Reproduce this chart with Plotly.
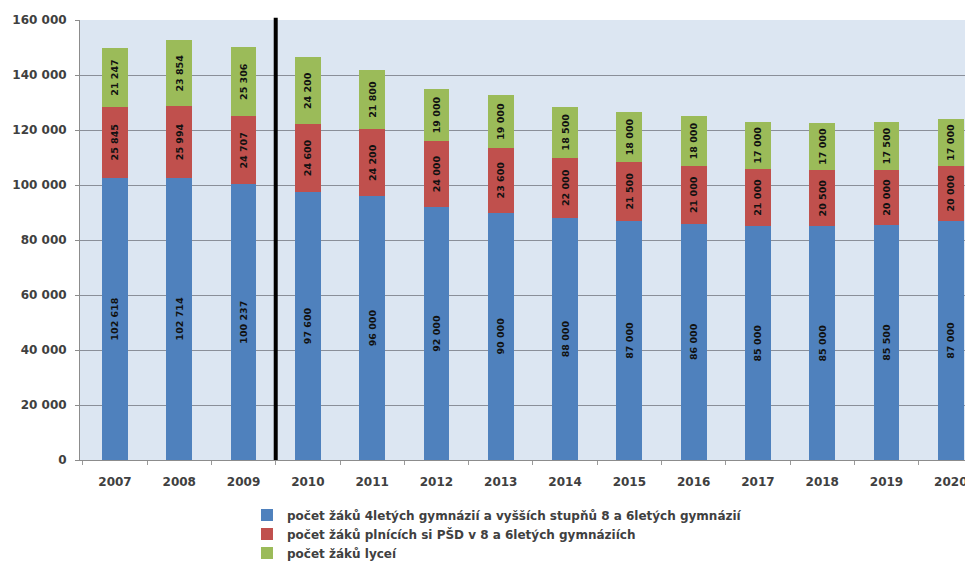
import plotly.graph_objects as go

years = ["2007", "2008", "2009", "2010", "2011", "2012", "2013", "2014",
         "2015", "2016", "2017", "2018", "2019", "2020"]
gymnazia = [102618, 102714, 100237, 97600, 96000, 92000, 90000, 88000,
            87000, 86000, 85000, 85000, 85500, 87000]
psd = [25845, 25994, 24707, 24600, 24200, 24000, 23600, 22000,
       21500, 21000, 21000, 20500, 20000, 20000]
lycea = [21247, 23854, 25306, 24200, 21800, 19000, 19000, 18500,
         18000, 18000, 17000, 17000, 17500, 17000]
names = ["počet žáků 4letých gymnázií a vyšších stupňů 8 a 6letých gymnázií",
         "počet žáků plnících si PŠD v 8 a 6letých gymnáziích",
         "počet žáků lyceí"]
colors = ["#4f81bd", "#c0504d", "#9bbb59"]
y_ticks = [0, 20000, 40000, 60000, 80000, 100000, 120000, 140000, 160000]
divider_after = 2.5  # boundary between 2009 and 2010

BOLD = "DejaVu Sans"

fig = go.Figure()
for i, (vals, name, col) in enumerate(zip([gymnazia, psd, lycea], names, colors)):
    fig.add_trace(go.Bar(
        x=years, y=vals, name=name, legendgroup=f"g{i}",
        marker=dict(color=col, line=dict(width=0)),
        texttemplate="%{y:,d}", textposition="inside",
        insidetextanchor="middle", textangle=-90,
        textfont=dict(size=9.5, color="#111111", family=BOLD, weight="bold"),
        constraintext="none",
    ))

fig.add_shape(type="line", xref="x", yref="paper", x0=divider_after, x1=divider_after,
              y0=0, y1=1.005, line=dict(color="black", width=4))

fig.update_layout(
    width=965, height=564,
    barmode="stack", bargap=0.6,
    separators=". ",
    paper_bgcolor="white", plot_bgcolor="#dce6f2",
    margin=dict(l=72, r=0, t=12, b=112),
    font=dict(family=BOLD, size=10, color="#404040"),
    showlegend=True,
    legend=dict(orientation="v", x=0.187, xanchor="left", y=-0.092, yanchor="top",
                traceorder="normal", tracegroupgap=4,
                font=dict(size=12, color="#404040", family=BOLD, weight="bold"),
                itemwidth=30, bgcolor="rgba(0,0,0,0)"),
)
fig.update_xaxes(range=[-0.544, 13.345], showgrid=False,
                 showline=True, linecolor="#8c8c8c", linewidth=1,
                 ticks="outside", tickson="boundaries", ticklen=4, tickcolor="#9a9a9a",
                 ticklabelstandoff=11,
                 tickfont=dict(size=12, color="#404040", family=BOLD, weight="bold"))
fig.update_yaxes(range=[0, 160000], tickvals=y_ticks, tickformat=",d",
                 showgrid=True, gridcolor="#8a8f99", gridwidth=1,
                 showline=True, linecolor="#8c8c8c", linewidth=1,
                 ticks="outside", ticklen=4, tickcolor="#8c8c8c",
                 ticklabelstandoff=6,
                 tickfont=dict(size=12, color="#404040", family=BOLD, weight="bold"),
                 zeroline=False)

fig.write_html("out.html")
